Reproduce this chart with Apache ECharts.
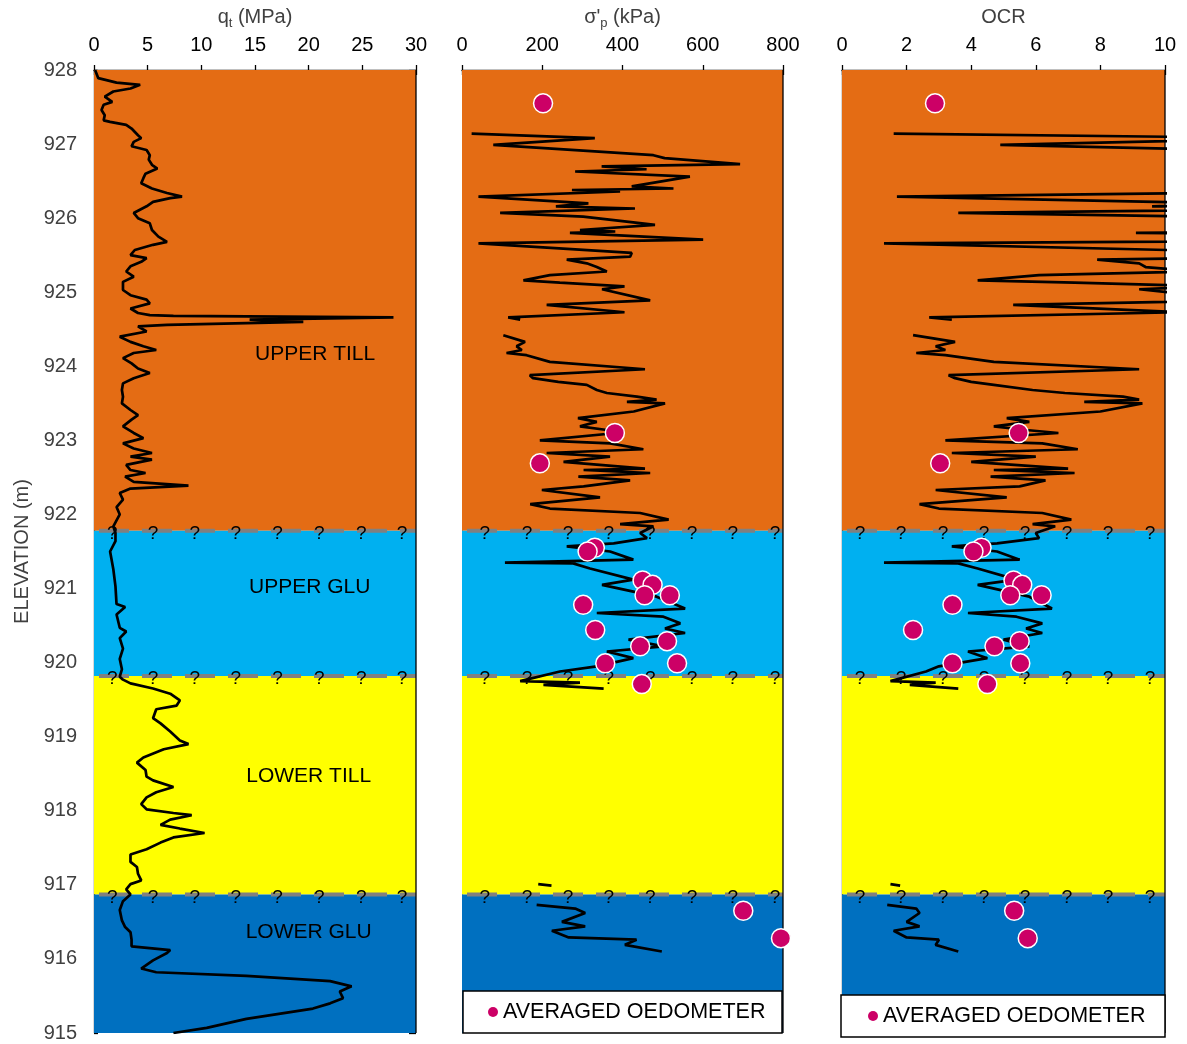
<!DOCTYPE html>
<html><head><meta charset="utf-8">
<script src="https://cdn.jsdelivr.net/npm/echarts/dist/echarts.min.js"></script>
<style>html,body{margin:0;padding:0;background:#fff}#c{width:1187px;height:1044px}</style>
</head><body><div id="c"></div><script>
// ---------------- DATA ----------------
const qtElev = [928.00,927.89,927.83,927.80,927.75,927.71,927.64,927.57,927.53,927.46,927.39,927.32,927.30,927.26,927.21,927.12,927.08,927.03,926.97,926.92,926.85,926.79,926.72,926.67,926.60,926.54,926.47,926.40,926.34,926.29,926.27,926.22,926.16,926.07,926.00,925.93,925.84,925.75,925.68,925.64,925.57,925.50,925.46,925.41,925.35,925.28,925.21,925.14,925.03,924.96,924.90,924.85,924.78,924.72,924.69,924.68,924.66,924.63,924.60,924.56,924.54,924.47,924.40,924.33,924.27,924.22,924.18,924.11,924.04,923.97,923.91,923.84,923.77,923.68,923.59,923.50,923.41,923.34,923.28,923.19,923.10,923.03,922.96,922.89,922.83,922.78,922.74,922.67,922.60,922.56,922.51,922.44,922.39,922.35,922.29,922.20,922.10,922.00,921.92,921.84,921.75,921.64,921.50,921.26,921.03,920.79,920.75,920.65,920.47,920.42,920.33,920.19,920.05,919.91,919.81,919.77,919.72,919.65,919.58,919.49,919.42,919.37,919.25,919.18,919.07,918.95,918.90,918.83,918.72,918.65,918.55,918.46,918.41,918.32,918.25,918.18,918.09,918.02,917.97,917.94,917.88,917.81,917.76,917.70,917.64,917.57,917.48,917.41,917.31,917.24,917.15,917.06,917.01,916.94,916.87,916.78,916.66,916.52,916.43,916.36,916.26,916.17,916.12,916.08,915.98,915.87,915.82,915.77,915.70,915.63,915.56,915.47,915.40,915.33,915.19,915.07,915.00];
const qtVal = [0.1,0.4,2.1,4.3,3.4,1.8,1.0,1.7,0.9,0.7,1.0,0.9,1.5,3.0,3.5,4.1,4.4,3.7,3.5,4.9,5.2,5.1,5.4,5.9,4.8,4.6,4.4,5.4,6.8,8.2,7.1,5.5,4.9,3.7,4.1,5.2,5.4,6.0,6.8,5.5,3.8,3.4,4.9,4.4,3.4,3.0,3.7,2.7,2.7,3.4,4.9,5.2,3.4,4.1,5.2,7.4,27.9,14.5,19.5,6.8,4.1,4.9,2.4,3.4,4.6,5.8,3.7,2.7,3.5,4.1,5.2,3.7,2.7,2.6,2.7,2.6,3.4,4.1,3.5,2.7,3.7,4.6,2.7,3.7,5.4,3.4,5.4,3.0,3.4,4.8,2.9,3.7,8.8,3.4,2.4,2.7,2.1,2.4,2.1,1.8,2.0,2.0,1.5,1.8,2.0,2.1,2.9,2.1,2.4,3.0,2.4,2.7,2.4,2.6,2.4,2.7,3.4,5.5,7.1,8.0,7.7,5.8,5.5,6.2,7.1,8.0,8.8,6.5,4.6,4.0,4.8,4.9,5.5,7.4,5.8,4.9,4.4,4.9,7.4,9.1,7.1,6.2,8.0,10.3,7.4,6.2,4.9,3.4,3.4,4.0,4.1,4.4,3.4,3.0,3.4,2.7,2.4,2.6,2.9,3.4,3.5,3.5,7.1,6.8,5.5,4.4,5.8,14.2,22.0,24.0,22.9,23.2,22.0,20.4,14.2,10.5,7.4];

// sigma'p and OCR share elevations; null = gap in the profile
const sigElev = [927.14,927.08,926.99,926.85,926.81,926.73,926.70,926.66,926.63,926.56,926.43,926.40,926.38,926.36,926.29,926.20,926.16,926.13,926.07,926.02,925.91,925.84,925.82,925.80,925.71,925.66,925.53,925.48,925.44,925.39,925.34,925.28,925.23,925.16,925.13,925.08,925.04,924.89,924.83,924.73,924.66,924.63,
924.52,
924.42,924.33,924.27,924.22,924.18,924.15,924.06,923.96,923.88,923.84,923.79,923.75,923.68,923.64,923.59,923.55,923.52,923.50,923.39,923.30,923.25,923.19,923.14,923.10,923.00,922.96,922.88,922.83,922.78,922.71,922.62,922.60,922.56,922.51,922.46,922.38,922.33,922.23,922.14,922.08,922.02,921.93,921.87,921.84,921.75,921.68,921.61,921.57,921.50,921.39,921.35,921.34,921.27,921.12,921.05,920.89,920.73,920.67,920.62,920.53,920.46,920.40,920.31,920.22,920.15,920.06,919.95,919.88,919.75,919.73,919.70,919.65,
919.00,
917.01,916.99,
916.90,
916.73,916.68,916.62,916.50,916.44,916.38,916.29,916.26,916.19,916.10];
const sigVal = [24,331,78,477,505,693,348,460,282,568,423,527,274,394,41,315,234,431,95,302,481,294,382,269,601,41,423,419,261,311,336,361,219,153,244,405,349,469,211,405,115,145,
null,
103,157,136,149,111,161,219,456,169,177,240,311,336,361,436,485,411,506,428,289,336,294,361,386,194,369,452,211,369,253,456,303,469,290,419,303,199,344,170,219,444,515,394,477,444,461,378,261,369,427,107,277,319,427,349,485,556,336,502,544,506,556,415,502,361,427,336,244,145,294,203,353,
null,
190,223,
null,
186,282,307,249,307,224,266,435,406,498];
const ocrVal = [1.6,14,4.9,19,20,27,14,18,11,22,16,20,10.5,15,1.7,12,9.6,16,3.6,11,17,10.5,13.5,9.1,21,1.3,14,14,7.9,9.2,9.4,11,6.1,4.2,7.2,11.5,9.2,12.5,5.3,10.5,2.7,3.4,
null,
2.2,3.5,2.9,3.2,2.3,3.2,4.7,9.2,3.3,3.5,4.0,4.7,5.9,6.9,8.7,9.2,7.5,9.3,8.0,5.1,5.8,4.7,5.7,6.7,3.2,6.2,7.3,3.4,6.0,4.0,7.0,4.7,7.2,4.6,6.3,5.5,2.9,5.1,2.4,3.0,6.2,7.1,5.9,6.6,6.0,6.1,4.8,3.4,4.8,5.5,1.3,3.6,4.2,5.4,4.2,5.8,6.5,3.9,5.4,6.2,5.7,6.2,5.0,5.8,3.9,4.5,3.0,2.6,1.5,2.9,2.1,3.6,
null,
1.5,1.8,
null,
1.4,2.3,2.4,2.0,2.4,1.6,2.0,3.0,2.9,3.6];

// averaged oedometer results
const oedElev = [927.55,923.10,922.69,921.55,921.50,921.11,921.05,920.91,920.91,920.78,920.44,920.29,920.22,919.99,919.99,919.71,916.65,916.28];
const oedSig  = [202,381,194,331,313,450,475,455,518,302,332,511,444,357,536,448,701,795];
const oedOcr  = [2.88,5.47,3.04,4.32,4.07,5.31,5.58,5.21,6.18,3.42,2.20,5.50,4.72,3.42,5.52,4.50,5.33,5.75];

// stratigraphy
const layerNames  = ['UPPER TILL','UPPER GLU','LOWER TILL','LOWER GLU'];
const layerTop    = [928, 921.78, 919.82, 916.87];
const layerBottom = [921.78, 919.82, 916.87, 915];
const layerColors = ['#E46C14','#00B0F0','#FFFF00','#0070C0'];
const layerLabelElev = [924.17, 921.02, 918.46, 916.36];
const layerLabelQt   = [20.6, 20.1, 20.0, 20.0];
const boundaryElev = [921.78, 919.82, 916.87];
const qMarkQt  = [1.7, 5.5, 9.4, 13.2, 17.1, 21.0, 24.9, 28.7];
const qMarkSig = [57, 162, 264, 366, 469, 573, 675, 780];
const qMarkOcr = [0.56, 1.83, 3.13, 4.40, 5.67, 6.97, 8.24, 9.54];

// ---------------- CHART ----------------
const FONT = "'Liberation Sans', Arial, sans-serif";
const chart = echarts.init(document.getElementById('c'), null, {renderer:'canvas'});

const panels = [
  {left:94, width:322, min:0, max:30, interval:5, name:'{n|q}{s|t}{n| (MPa)}', marks:qMarkQt},
  {left:462, width:321, min:0, max:800, interval:200, name:"{n|σ'}{s|p}{n| (kPa)}", marks:qMarkSig},
  {left:842, width:323, min:0, max:10, interval:2, name:'{n|OCR}', marks:qMarkOcr}
];
const TOP = 70, H = 963;
const grid = panels.map(p => ({left:p.left, top:TOP, width:p.width, height:H, containLabel:false}));

const xAxis = [], yAxis = [];
panels.forEach((p, i) => {
  xAxis.push({
    gridIndex:i, type:'value', position:'top', min:p.min, max:p.max, interval:p.interval,
    axisLine:{show:true, lineStyle:{color:'#000', width:1.3}},
    axisTick:{show:true, inside:true, length:5, lineStyle:{color:'#000', width:1.3}},
    minorTick:{show:true, splitNumber:5, length:5, lineStyle:{color:'#000', width:1.2}},
    axisLabel:{margin:15, color:'#000', fontSize:20, fontFamily:FONT},
    splitLine:{show:false}, minorSplitLine:{show:false},
    name:p.name, nameLocation:'middle', nameGap:40,
    nameTextStyle:{color:'#404040', fontSize:20, fontFamily:FONT, rich:{
      n:{fontSize:20, color:'#404040', lineHeight:26, fontFamily:FONT},
      s:{fontSize:13, color:'#404040', lineHeight:26, verticalAlign:'bottom', fontFamily:FONT}}}
  });
  xAxis.push({
    gridIndex:i, type:'value', position:'bottom', offset:-H, min:p.min, max:p.max, interval:p.interval,
    axisLine:{show:false}, axisTick:{show:true, inside:true, length:5, lineStyle:{color:'#000', width:1.3}},
    axisLabel:{show:false}, splitLine:{show:false}
  });
});
// y axes: 0 = panel1 main, 1 = panel1 outer ticks, 2 = panel2, 3 = panel3
yAxis.push({
  gridIndex:0, type:'value', position:'left', min:915, max:928, interval:1,
  axisLine:{show:true, lineStyle:{color:'#000', width:1.3}},
  axisTick:{show:true, inside:true, length:4, lineStyle:{color:'#000', width:1.3}},
  minorTick:{show:true, splitNumber:5, length:4, lineStyle:{color:'#000', width:1.2}},
  axisLabel:{margin:17, color:'#404040', fontSize:20, fontFamily:FONT},
  splitLine:{show:false}, minorSplitLine:{show:false},
  name:'ELEVATION (m)', nameLocation:'middle', nameRotate:90, nameGap:62,
  nameTextStyle:{color:'#404040', fontSize:20, fontFamily:FONT}
});
yAxis.push({
  gridIndex:0, type:'value', position:'right', offset:-322, min:915, max:928, interval:1,
  axisLine:{show:false}, axisTick:{show:true, inside:true, length:7, lineStyle:{color:'#000', width:1.3}},
  axisLabel:{show:false}, splitLine:{show:false}
});
yAxis.push({
  gridIndex:1, type:'value', position:'left', min:915, max:928, interval:1,
  axisLine:{show:true, lineStyle:{color:'#8c8c8c', width:1}}, axisTick:{show:false},
  axisLabel:{show:false}, splitLine:{show:false}
});
yAxis.push({
  gridIndex:2, type:'value', position:'left', min:915, max:928, interval:1,
  axisLine:{show:true, lineStyle:{color:'#000', width:1.3}}, axisTick:{show:false},
  axisLabel:{show:false}, splitLine:{show:false}
});
const yMain = [0, 2, 3];

const series = [];
panels.forEach((p, i) => {
  const xi = i * 2, yi = yMain[i];
  series.push({
    type:'custom', xAxisIndex:xi, yAxisIndex:yi, z:1, silent:true, clip:false,
    data: layerTop.map((t, k) => [k]),
    renderItem: (params, api) => {
      const k = api.value(0);
      const a = api.coord([p.min, layerTop[k]]);
      const b = api.coord([p.max, layerBottom[k]]);
      const ch = [{type:'rect', shape:{x:a[0], y:a[1], width:b[0]-a[0], height:b[1]-a[1]}, style:{fill:layerColors[k]}}];
      if (k > 0) ch.push({type:'line', shape:{x1:a[0], y1:a[1], x2:b[0], y2:a[1]},
        style:{stroke:'#808080', lineWidth:4, lineDash:[30,13], lineDashOffset:38}});
      if (k === layerTop.length - 1) {
        const t = api.coord([p.max, layerTop[0]]);
        ch.push({type:'line', shape:{x1:b[0], y1:t[1], x2:b[0], y2:b[1]}, style:{stroke:'#000', lineWidth:1.3}});
      }
      return {type:'group', children:ch};
    }
  });
  // question marks on layer boundaries
  const qd = [];
  boundaryElev.forEach(b => p.marks.forEach(x => qd.push([x, b])));
  series.push({
    type:'scatter', xAxisIndex:xi, yAxisIndex:yi, z:4, silent:true, symbolSize:0, data:qd,
    itemStyle:{opacity:1},
    label:{show:true, formatter:'?', position:'inside', offset:[0,3], color:'#000', fontSize:19, fontFamily:FONT},
    emphasis:{disabled:true}
  });
});

const mk = (vals, elevs) => elevs.map((e, k) => vals[k] == null ? ['-', e] : [vals[k], e]);
const lineStyle = {color:'#000', width:2.7};
series.push({type:'line', name:'qt', xAxisIndex:0, yAxisIndex:0, z:3, data:mk(qtVal, qtElev), symbol:'none', lineStyle, connectNulls:false, silent:true});
series.push({type:'line', name:'sigma', xAxisIndex:2, yAxisIndex:2, z:3, data:mk(sigVal, sigElev), symbol:'none', lineStyle, connectNulls:false, silent:true});
series.push({type:'line', name:'ocr', xAxisIndex:4, yAxisIndex:3, z:3, data:mk(ocrVal, sigElev), symbol:'none', lineStyle, connectNulls:false, silent:true, clip:true});

// layer names (panel 1)
series.push({
  type:'scatter', xAxisIndex:0, yAxisIndex:0, z:4, silent:true, symbolSize:0,
  itemStyle:{opacity:1},
  data: layerNames.map((n, k) => ({value:[layerLabelQt[k], layerLabelElev[k]], name:n})),
  label:{show:true, position:'inside', formatter:'{b}', color:'#000', fontSize:21, fontFamily:FONT},
  emphasis:{disabled:true}
});

const oedStyle = {color:'#CC0066', borderColor:'#ffffff', borderWidth:1.5, opacity:1};
series.push({type:'scatter', name:'AVERAGED OEDOMETER', xAxisIndex:2, yAxisIndex:2, z:5, symbol:'circle', symbolSize:19,
  itemStyle:oedStyle, data:oedElev.map((e, k) => [oedSig[k], e])});
series.push({type:'scatter', name:'AVERAGED OEDOMETER', xAxisIndex:4, yAxisIndex:3, z:5, symbol:'circle', symbolSize:19,
  itemStyle:oedStyle, data:oedElev.map((e, k) => [oedOcr[k], e])});

const legendCommon = {data:[{name:'AVERAGED OEDOMETER', icon:'circle', itemStyle:{color:'#CC0066', borderWidth:0, opacity:1}}],
  padding:0, itemWidth:10, itemHeight:10, selectedMode:false, z:20,
  textStyle:{fontSize:21.5, color:'#000', fontFamily:FONT}};

chart.setOption({
  animation:false,
  grid, xAxis, yAxis, series,
  legend:[Object.assign({left:488, top:1001}, legendCommon), Object.assign({left:868, top:1005}, legendCommon)],
  graphic:{elements:[
    {type:'rect', z:15, shape:{x:463, y:991, width:319, height:42}, style:{fill:'#fff', stroke:'#000', lineWidth:1.5}},
    {type:'rect', z:15, shape:{x:841, y:995, width:324, height:42}, style:{fill:'#fff', stroke:'#000', lineWidth:1.5}}
  ]}
});
</script></body></html>
